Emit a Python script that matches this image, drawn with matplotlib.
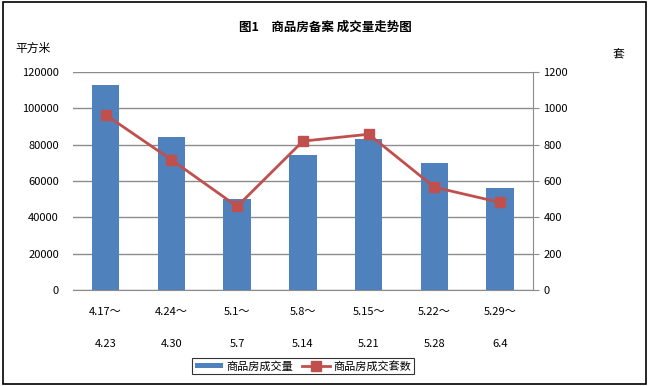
import numpy as np
import matplotlib.pyplot as plt
from matplotlib.patches import Rectangle

plt.rcParams['font.family'] = ['Noto Sans CJK SC', 'DejaVu Sans']

# ==============================
# DATI
# ==============================
periods_start = ['4.17～', '4.24～', '5.1～', '5.8～', '5.15～', '5.22～', '5.29～']
periods_end = ['4.23', '4.30', '5.7', '5.14', '5.21', '5.28', '6.4']
area = [113000, 84300, 50200, 74400, 83200, 70000, 56200]      # 平方米
units = [965, 717, 460, 820, 858, 566, 482]                     # 套

labels = [s + '\n\n' + e for s, e in zip(periods_start, periods_end)]
x = np.arange(len(labels))

# ==============================
# GRAFICO
# ==============================
fig = plt.figure(figsize=(6.5, 3.86), dpi=100)
ax = fig.add_axes([0.112, 0.249, 0.708, 0.564])

bars = ax.bar(x, area, width=0.42, color='#4F81BD', zorder=2, label='商品房成交量')
ax.set_xlim(-0.5, len(labels) - 0.5)
ax.set_ylim(0, 120000)
ax.set_yticks(np.arange(0, 120001, 20000))
ax.yaxis.grid(True, color='#8c8c8c', linewidth=1)
ax.set_axisbelow(True)
ax.set_xticks(x)
ax.set_xticklabels(labels, fontsize=8, linespacing=1.75)
ax.tick_params(axis='x', length=0, pad=12)
ax.tick_params(axis='y', length=0, labelsize=8, pad=10)
for s in ['top', 'left', 'right']:
    ax.spines[s].set_visible(False)
ax.spines['bottom'].set_color('#8c8c8c')

ax2 = ax.twinx()
line, = ax2.plot(x, units, color='#C0504D', linewidth=2, marker='s', markersize=7.5,
                 zorder=3, label='商品房成交套数')
ax2.set_ylim(0, 1200)
ax2.set_yticks(np.arange(0, 1201, 200))
ax2.tick_params(axis='y', labelsize=8, length=4, color='#8c8c8c', direction='out')
for s in ['top', 'left', 'bottom']:
    ax2.spines[s].set_visible(False)
ax2.spines['right'].set_color('#8c8c8c')

fig.text(0.5, 0.93, '图1　商品房备案 成交量走势图', ha='center', va='center',
         fontsize=9, fontweight='bold')
fig.text(0.023, 0.875, '平方米', ha='left', va='center', fontsize=8.5)
fig.text(0.943, 0.858, '套', ha='left', va='center', fontsize=8.5)

leg = fig.legend([bars, line], ['商品房成交量', '商品房成交套数'], loc='center',
                 bbox_to_anchor=(0.466, 0.052), ncol=2, fontsize=8, frameon=True,
                 fancybox=False, edgecolor='black', borderpad=0.25,
                 handlelength=2.5, handletextpad=0.3, columnspacing=0.8,
                 handleheight=0.4)
leg.get_frame().set_linewidth(0.8)

fig.patches.append(Rectangle((0.004, 0.006), 0.99, 0.988, transform=fig.transFigure,
                             fill=False, edgecolor='black', linewidth=1.2))

plt.savefig('out.png', dpi=100)
